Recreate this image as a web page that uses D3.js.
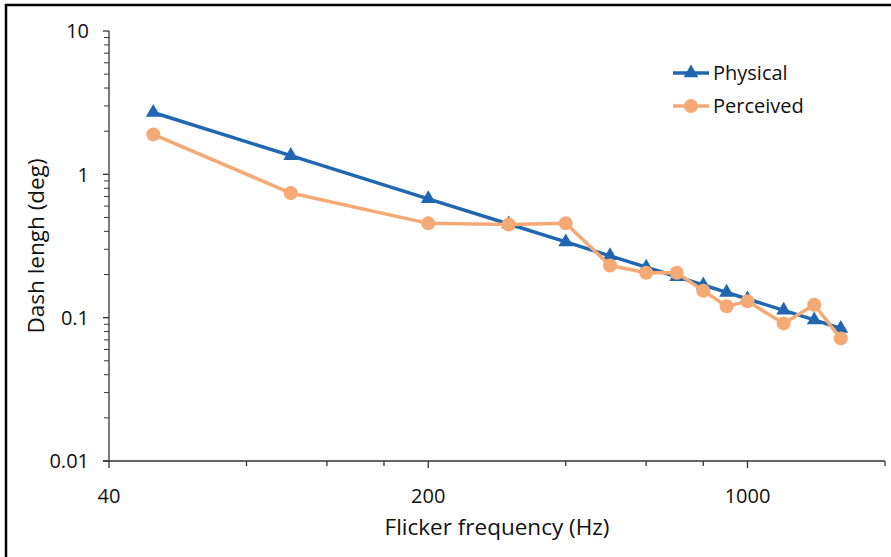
<!DOCTYPE html>
<html>
<head>
<meta charset="utf-8">
<script src="https://cdn.jsdelivr.net/npm/d3@7"></script>
<style>
  body { margin: 0; background: #fff; }
  svg text { font-family: "Open Sans", "Liberation Sans", sans-serif; fill: #111; }
</style>
</head>
<body>
<div id="chart"></div>
<script>
// flicker frequency (Hz)
var freqs = [50, 100, 200, 300, 400, 500, 600, 700, 800, 900, 1000, 1200, 1400, 1600];
var physical = [2.7, 1.35, 0.675, 0.45, 0.3375, 0.27, 0.225, 0.193, 0.169, 0.15, 0.135, 0.1125, 0.0964, 0.084];
var perceived = [1.9, 0.74, 0.455, 0.447, 0.455, 0.231, 0.206, 0.206, 0.154, 0.12, 0.13, 0.0912, 0.123, 0.0717];
var xTickLabels = [40, 200, 1000];
var xMinorTicks = [80, 120, 160, 400, 600, 800, 2000];
var yTickLabels = [0.01, 0.1, 1, 10];

var width = 891, height = 557;
var blue = "#2166b0", orange = "#f5aa76";

var svg = d3.select("#chart").append("svg")
  .attr("width", width).attr("height", height);

// frame (only top/left visible in the crop)
svg.append("rect")
  .attr("x", 6).attr("y", 5)
  .attr("width", 900).attr("height", 600)
  .attr("fill", "none").attr("stroke", "#000").attr("stroke-width", 2.5);

var x = d3.scaleLog().base(5).domain([40, 2000]).range([109, 885]);
var y = d3.scaleLog().domain([0.01, 10]).range([461, 31]);

// y axis
var yMinor = [];
[0.01, 0.1, 1].forEach(function(d) {
  for (var k = 2; k <= 9; k++) yMinor.push(d * k);
});
var ax = svg.append("g");
ax.append("line").attr("x1", 109).attr("x2", 109).attr("y1", y(10)).attr("y2", y(0.01))
  .attr("stroke", "#333").attr("stroke-width", 1.3);
ax.selectAll(".ymin").data(yMinor).enter().append("line")
  .attr("x1", 104).attr("x2", 109)
  .attr("y1", function(d) { return y(d); }).attr("y2", function(d) { return y(d); })
  .attr("stroke", "#333").attr("stroke-width", 1);
ax.selectAll(".ymaj").data(yTickLabels).enter().append("line")
  .attr("x1", 103).attr("x2", 109)
  .attr("y1", function(d) { return y(d); }).attr("y2", function(d) { return y(d); })
  .attr("stroke", "#333").attr("stroke-width", 1.3);
ax.selectAll(".ylab").data(yTickLabels).enter().append("text")
  .attr("x", 89).attr("y", function(d) { return y(d); })
  .attr("dy", "0.36em").attr("text-anchor", "end")
  .style("font-size", "20px")
  .text(function(d) { return d; });

// x axis
ax.append("line").attr("x1", 103).attr("x2", 885).attr("y1", 461).attr("y2", 461)
  .attr("stroke", "#333").attr("stroke-width", 1.3);
ax.selectAll(".xmin").data(xMinorTicks).enter().append("line")
  .attr("x1", function(d) { return x(d); }).attr("x2", function(d) { return x(d); })
  .attr("y1", 461).attr("y2", 466)
  .attr("stroke", "#333").attr("stroke-width", 1.3);
ax.selectAll(".xmaj").data(xTickLabels).enter().append("line")
  .attr("x1", function(d) { return x(d); }).attr("x2", function(d) { return x(d); })
  .attr("y1", 461).attr("y2", 468)
  .attr("stroke", "#333").attr("stroke-width", 1.3);
ax.selectAll(".xlab").data(xTickLabels).enter().append("text")
  .attr("x", function(d) { return x(d); }).attr("y", 503)
  .attr("text-anchor", "middle")
  .style("font-size", "20px")
  .text(function(d) { return d; });

// axis titles
svg.append("text")
  .attr("x", 497).attr("y", 535)
  .attr("text-anchor", "middle")
  .style("font-size", "22.5px")
  .text("Flicker frequency (Hz)");
svg.append("text")
  .attr("transform", "translate(44,246) rotate(-90)")
  .attr("text-anchor", "middle")
  .style("font-size", "22.5px")
  .text("Dash lengh (deg)");

// series
var line = d3.line()
  .x(function(d) { return x(d[0]); })
  .y(function(d) { return y(d[1]); });

var physData = freqs.map(function(f, i) { return [f, physical[i]]; });
var percData = freqs.map(function(f, i) { return [f, perceived[i]]; });

var tri = d3.symbol().type(d3.symbolTriangle).size(95);

svg.append("path").datum(physData)
  .attr("d", line).attr("fill", "none")
  .attr("stroke", blue).attr("stroke-width", 3.5).attr("stroke-linejoin", "round");
svg.append("g").selectAll("path").data(physData).enter().append("path")
  .attr("d", tri)
  .attr("transform", function(d) { return "translate(" + x(d[0]) + "," + y(d[1]) + ")"; })
  .attr("fill", blue);

svg.append("path").datum(percData)
  .attr("d", line).attr("fill", "none")
  .attr("stroke", orange).attr("stroke-width", 3.5).attr("stroke-linejoin", "round");
svg.append("g").selectAll("circle").data(percData).enter().append("circle")
  .attr("cx", function(d) { return x(d[0]); })
  .attr("cy", function(d) { return y(d[1]); })
  .attr("r", 7)
  .attr("fill", orange);

// legend
var legend = [
  { name: "Physical", color: blue, shape: "tri", y: 73 },
  { name: "Perceived", color: orange, shape: "circle", y: 106 }
];
var lg = svg.append("g").selectAll("g").data(legend).enter().append("g")
  .attr("transform", function(d) { return "translate(673," + d.y + ")"; });
lg.append("line").attr("x1", 0).attr("x2", 36)
  .attr("stroke", function(d) { return d.color; }).attr("stroke-width", 3.5);
lg.each(function(d) {
  var g = d3.select(this);
  if (d.shape === "tri") g.append("path").attr("d", tri).attr("transform", "translate(18,0)").attr("fill", d.color);
  else g.append("circle").attr("cx", 18).attr("r", 7).attr("fill", d.color);
});
lg.append("text").attr("x", 40).attr("dy", "0.36em")
  .style("font-size", "20px")
  .text(function(d) { return d.name; });
</script>
</body>
</html>
